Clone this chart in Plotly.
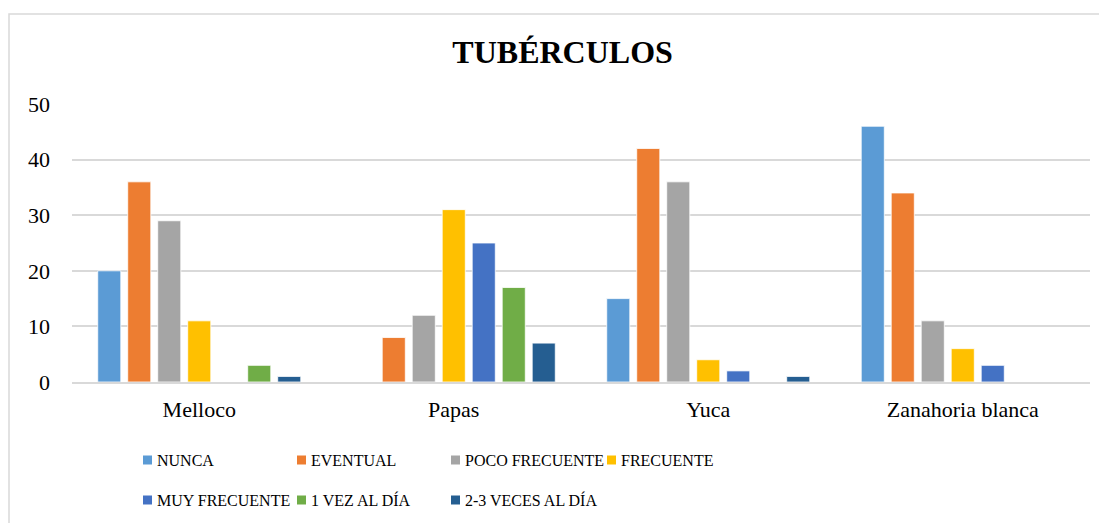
import plotly.graph_objects as go

categories = ['Melloco', 'Papas', 'Yuca', 'Zanahoria blanca']

nunca = [20, 0, 15, 46]
eventual = [36, 8, 42, 34]
poco_frecuente = [29, 12, 36, 11]
frecuente = [11, 31, 4, 6]
muy_frecuente = [0, 25, 2, 3]
una_vez_dia = [3, 17, 0, 0]
dos_tres_veces_dia = [1, 7, 1, 0]

series_names = ['NUNCA', 'EVENTUAL', 'POCO FRECUENTE', 'FRECUENTE',
                'MUY FRECUENTE', '1 VEZ AL DÍA', '2-3 VECES AL DÍA']
series_values = [nunca, eventual, poco_frecuente, frecuente,
                 muy_frecuente, una_vez_dia, dos_tres_veces_dia]
colors = ['#5B9BD5', '#ED7D31', '#A5A5A5', '#FFC000', '#4472C4', '#70AD47', '#255E91']

FONT = 'Liberation Serif'

# the page body adds an 8px margin, so screen px = figure px + 8
OFF = 8
# plot area on screen: x 72..1090, y 104..382
L, T, W, H = 72, 104, 1018, 278

def px_x(p):
    return (p - L) / W

def px_y(p):
    return (T + H - p) / H

fig = go.Figure()
for name, vals, color in zip(series_names, series_values, colors):
    fig.add_trace(go.Bar(
        x=categories, y=vals, name=name, showlegend=False,
        marker=dict(color=color, line=dict(color='white', width=0.8)),
    ))

# Excel-style legend: 4 entries per row, text start x and row centre y (screen px)
legend_cols = [155, 309, 463, 619]
legend_rows = [460, 500]
for i, (name, color) in enumerate(zip(series_names, colors)):
    tx = legend_cols[i % 4]
    ty = legend_rows[i // 4]
    fig.add_shape(type='rect', xref='paper', yref='paper',
                  x0=px_x(tx - 12), x1=px_x(tx - 3), y0=px_y(ty + 4.5), y1=px_y(ty - 4.5),
                  fillcolor=color, line=dict(width=0))
    fig.add_annotation(x=px_x(tx), y=px_y(ty), xref='paper', yref='paper',
                       text=name, showarrow=False, xanchor='left', yanchor='middle',
                       font=dict(family=FONT, size=16, color='#000000'))

fig.update_layout(
    width=1107, height=523,
    margin=dict(l=L - OFF, r=1107 - (L - OFF) - W, t=T - OFF, b=523 - (T - OFF) - H,
                autoexpand=False),
    paper_bgcolor='white', plot_bgcolor='white',
    font=dict(family=FONT, color='#000000'),
    title=dict(text='<b>TUBÉRCULOS</b>', x=0.501, xanchor='center', y=0.916, yanchor='middle',
               font=dict(family=FONT, size=32, color='#000000')),
    barmode='group', bargap=0.175, bargroupgap=0.23,
)

fig.update_xaxes(
    showgrid=False, showline=True, linecolor='#d9d9d9', linewidth=1.5,
    ticks='', tickfont=dict(family=FONT, size=22, color='#000000'), ticklabelstandoff=7,
)
fig.update_yaxes(
    range=[0, 50], dtick=10, showgrid=True, gridcolor='#d9d9d9', gridwidth=1.5,
    zeroline=False, showline=False, ticks='',
    tickfont=dict(family=FONT, size=22, color='#000000'), ticklabelstandoff=21,
)

# outer chart frame (cut off at right and bottom in the reference)
fig.add_shape(type='rect', xref='paper', yref='paper',
              x0=px_x(9), x1=px_x(1125), y0=px_y(545), y1=px_y(14),
              line=dict(color='#d9d9d9', width=1.5), layer='below')

fig.write_html('out.html')
